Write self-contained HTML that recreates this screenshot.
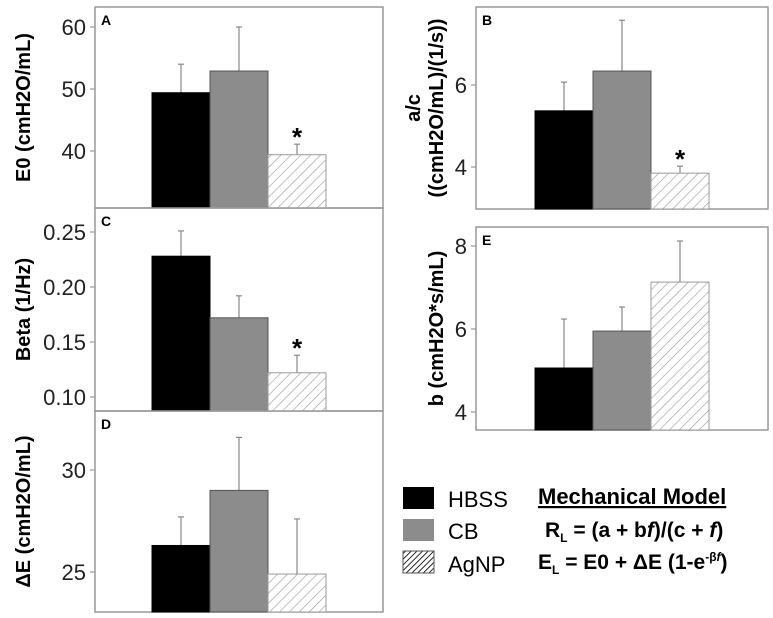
<!DOCTYPE html>
<html><head><meta charset="utf-8">
<style>
body{margin:0;background:#fff;width:773px;height:618px;overflow:hidden;font-family:"Liberation Sans",sans-serif}
svg{display:block}
</style></head>
<body>
<svg id="fig" width="773" height="618" xmlns="http://www.w3.org/2000/svg">
<defs>
<pattern id="hatch" width="7" height="7" patternUnits="userSpaceOnUse" patternTransform="rotate(45)">
<rect width="7" height="7" fill="#fff"/><line x1="0" y1="0" x2="0" y2="7" stroke="#999" stroke-width="1.2"/>
</pattern>
<pattern id="hatchL" width="4" height="4" patternUnits="userSpaceOnUse" patternTransform="rotate(45)">
<rect width="4" height="4" fill="#fff"/><line x1="0" y1="0" x2="0" y2="4" stroke="#111" stroke-width="1.8"/>
</pattern>
</defs>
<g id="panels"></g>
<g>
<rect x="403" y="487" width="31" height="22" fill="#000"/>
<text x="448" y="507" font-size="22">HBSS</text>
<rect x="403" y="519" width="31" height="22" fill="#8c8c8c"/>
<text x="448" y="539" font-size="22">CB</text>
<rect x="403" y="551" width="31" height="22" fill="url(#hatchL)" stroke="#555"/>
<text x="448" y="572" font-size="22">AgNP</text>
</g>
<g font-size="21" font-weight="bold">
<text x="538" y="504" font-size="22" text-decoration="underline">Mechanical Model</text>
<text x="545" y="537">R<tspan font-size="12" dy="5">L</tspan><tspan dy="-5"> = (a + b<tspan font-style="italic">f</tspan>)/(c + <tspan font-style="italic">f</tspan>)</tspan></text>
<text x="538" y="569">E<tspan font-size="12" dy="5">L</tspan><tspan dy="-5"> = E0 + ΔE (1-e</tspan><tspan font-size="12" dy="-8">-β<tspan font-style="italic">f</tspan></tspan><tspan dy="8">)</tspan></text>
</g>
</svg>
<script>
const groups = ["HBSS","CB","AgNP"];
const e0Vals = [49.4, 52.9, 39.4];
const e0Err = [54.0, 60.0, 41.1];
const e0Ticks = [40, 50, 60];
const betaVals = [0.228, 0.172, 0.122];
const betaErr = [0.251, 0.192, 0.138];
const betaTicks = [0.10, 0.15, 0.20, 0.25];
const dEVals = [26.3, 29.0, 24.9];
const dEErr = [27.7, 31.6, 27.6];
const dETicks = [25, 30];
const acVals = [5.37, 6.34, 3.85];
const acErr = [6.07, 7.58, 4.02];
const acTicks = [4, 6];
const bVals = [5.06, 5.95, 7.13];
const bErr = [6.24, 6.53, 8.12];
const bTicks = [4, 6, 8];
const sig = [false, false, true];

const NS = "http://www.w3.org/2000/svg";
const root = document.getElementById("panels");
function mk(tag, attrs, parent){const e=document.createElementNS(NS,tag);for(const k in attrs)e.setAttribute(k,attrs[k]);parent.appendChild(e);return e;}
const fills = ["#000","#8c8c8c","url(#hatch)"];
const strokes = ["#000","#555","#999"];

function panel(cfg){
  const g = mk("g",{},root);
  
  
  const y = v => cfg.y0 - (v - cfg.v0) * cfg.ppu;
  const fr = mk("rect",{x:cfg.x,y:cfg.top,width:cfg.w,height:cfg.bot-cfg.top,fill:"none",stroke:"#999","stroke-width":1.5},g);
  
  
  const lt = mk("text",{x:cfg.x+6,y:cfg.top+18,"font-size":14,"font-weight":"bold"},g);
  lt.textContent = cfg.letter;
  
  
  cfg.ticks.forEach(t=>{
    const ty=y(t);
    const tl = mk("line",{x1:cfg.x-5,x2:cfg.x,y1:ty,y2:ty,stroke:"#999","stroke-width":1.2},g);
    
    
    const tx = mk("text",{x:cfg.x-9,y:ty+8,"font-size":22,"text-anchor":"end",fill:"#222"},g);
    tx.textContent = cfg.fmt(t);
    
    
  });
  cfg.vals.forEach((v,i)=>{
    const bx = cfg.bx + i*cfg.bw;
    const top = y(v);
    const el = mk("line",{x1:bx+cfg.bw/2,x2:bx+cfg.bw/2,y1:top,y2:y(cfg.err[i]),stroke:"#888","stroke-width":1.2},g);
    
    
    const cap = mk("line",{x1:bx+cfg.bw/2-3,x2:bx+cfg.bw/2+3,y1:y(cfg.err[i]),y2:y(cfg.err[i]),stroke:"#888","stroke-width":1.2},g);
    
    
    const r = mk("rect",{x:bx,y:top,width:cfg.bw,height:cfg.bot-top,fill:fills[i],stroke:strokes[i],"stroke-width":1},g);
    
    
    if(cfg.sig && sig[i]){
      const s = mk("text",{x:bx+cfg.bw/2,y:y(cfg.err[i])+2,"font-size":26,"font-weight":"bold","text-anchor":"middle"},g);
      s.textContent="*";
      
      
    }
  });
  cfg.labels.forEach((l,k)=>{
    const t = mk("text",{transform:`translate(${cfg.lx[k]},${(cfg.top+cfg.bot)/2}) rotate(-90)`,"font-size":20,"font-weight":"bold","text-anchor":"middle"},g);
    t.textContent = l;
    
    
  });
}
panel({letter:"A",x:95,w:288,top:7,bot:208,y0:151,v0:40,ppu:6.2,ticks:e0Ticks,fmt:t=>t,vals:e0Vals,err:e0Err,bx:152,bw:58,sig:true,labels:["E0 (cmH2O/mL)"],lx:[30]});
panel({letter:"C",x:95,w:288,top:208,bot:411,y0:397,v0:0.10,ppu:1100,ticks:betaTicks,fmt:t=>t.toFixed(2),vals:betaVals,err:betaErr,bx:152,bw:58,sig:true,labels:["Beta (1/Hz)"],lx:[30]});
panel({letter:"D",x:95,w:288,top:411,bot:612,y0:572,v0:25,ppu:20.4,ticks:dETicks,fmt:t=>t,vals:dEVals,err:dEErr,bx:152,bw:58,sig:false,labels:["ΔE (cmH2O/mL)"],lx:[30]});
panel({letter:"B",x:476,w:292,top:7,bot:209,y0:167,v0:4,ppu:41,ticks:acTicks,fmt:t=>t,vals:acVals,err:acErr,bx:535,bw:58,sig:true,labels:["a/c","((cmH2O/mL)/(1/s))"],lx:[420,443]});
panel({letter:"E",x:476,w:292,top:227,bot:430,y0:412,v0:4,ppu:41.5,ticks:bTicks,fmt:t=>t,vals:bVals,err:bErr,bx:535,bw:58,sig:false,labels:["b (cmH2O*s/mL)"],lx:[443]});
</script>
</body></html>
